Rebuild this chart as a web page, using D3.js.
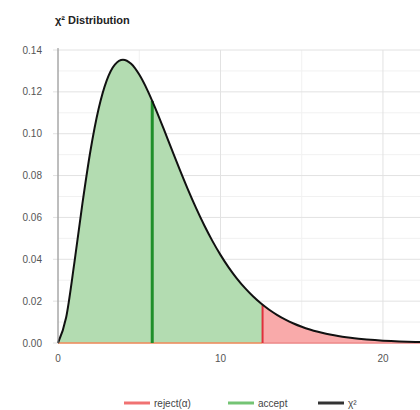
<!DOCTYPE html>
<html>
<head>
<meta charset="utf-8">
<script src="https://cdn.jsdelivr.net/npm/d3@7"></script>
<style>
  body { margin: 0; background: #fff; }
  svg { display: block; font-family: "Liberation Sans", Arial, sans-serif; }
</style>
</head>
<body>
<svg id="chart" width="420" height="410"></svg>
<script>
// Chi-square density (6 degrees of freedom), sampled every 0.5
const xs = [0, 0.5, 1, 1.5, 2, 2.5, 3, 3.5, 4, 4.5, 5, 5.5, 6, 6.5, 7, 7.5, 8, 8.5, 9, 9.5,
  10, 10.5, 11, 11.5, 12, 12.5, 13, 13.5, 14, 14.5, 15, 15.5, 16, 16.5, 17, 17.5, 18, 18.5,
  19, 19.5, 20, 20.5, 21, 21.5, 22, 22.5];
const density = [0, 0.01217, 0.03791, 0.06643, 0.09197, 0.11192, 0.12551, 0.13305, 0.13534,
  0.13340, 0.12825, 0.12086, 0.11202, 0.10238, 0.09248, 0.08268, 0.07326, 0.06441, 0.05624,
  0.04880, 0.04211, 0.03616, 0.03091, 0.02631, 0.02231, 0.01885, 0.01588, 0.01334, 0.01117,
  0.00933, 0.00778, 0.00647, 0.00537, 0.00444, 0.00367, 0.00303, 0.00250, 0.00206, 0.00169,
  0.00139, 0.00113, 0.00093, 0.00076, 0.00062, 0.00050, 0.00041];
// Critical value (alpha = 0.05) and observed statistic
const critical = { x: 12.59, y: 0.01826 };
const statistic = { x: 5.8, y: 0.1157 };
const yTicks = [0, 0.02, 0.04, 0.06, 0.08, 0.10, 0.12, 0.14];
const xTicks = [0, 10, 20];
const legendLabels = ["reject(α)", "accept", "χ²"];

const svg = d3.select("#chart");
const margin = { left: 58, right: 0, top: 50, bottom: 67 };
const W = 420, H = 410;

const x = d3.scaleLinear().domain([0, 22.28]).range([margin.left, W - margin.right]);
const y = d3.scaleLinear().domain([0, 0.14]).range([H - margin.bottom, margin.top]);

const pts = xs.map((v, i) => ({ x: v, y: density[i] }));
const acceptPts = pts.filter(p => p.x < critical.x).concat([critical]);
const rejectPts = [critical].concat(pts.filter(p => p.x > critical.x));

const g = svg.append("g");

// minor grid
const minorY = d3.range(0.01, 0.14, 0.02);
g.selectAll(".minorY").data(minorY).join("line")
  .attr("x1", x(0)).attr("x2", W).attr("y1", d => y(d)).attr("y2", d => y(d))
  .attr("stroke", "#f1f1f1").attr("stroke-width", 1);
g.selectAll(".minorX").data([5, 15]).join("line")
  .attr("x1", d => x(d)).attr("x2", d => x(d)).attr("y1", y(0)).attr("y2", y(0.14))
  .attr("stroke", "#f1f1f1").attr("stroke-width", 1);
// major grid
g.selectAll(".gy").data(yTicks).join("line")
  .attr("x1", x(0) - 5).attr("x2", W).attr("y1", d => y(d)).attr("y2", d => y(d))
  .attr("stroke", "#e2e2e2").attr("stroke-width", 1);
g.selectAll(".gx").data(xTicks).join("line")
  .attr("x1", d => x(d)).attr("x2", d => x(d)).attr("y1", y(0)).attr("y2", y(0.14))
  .attr("stroke", "#e2e2e2").attr("stroke-width", 1);

const area = d3.area().x(d => x(d.x)).y0(y(0)).y1(d => y(d.y)).curve(d3.curveMonotoneX);
const line = d3.line().x(d => x(d.x)).y(d => y(d.y)).curve(d3.curveMonotoneX);

g.append("path").datum(acceptPts).attr("d", area).attr("fill", "#b3dcb1");
g.append("path").datum(rejectPts).attr("d", area).attr("fill", "#f9aaaa");

// baseline of the shaded regions
g.append("line").attr("x1", x(0)).attr("x2", x(critical.x))
  .attr("y1", y(0)).attr("y2", y(0)).attr("stroke", "#f08a5a").attr("stroke-width", 1.5);
g.append("line").attr("x1", x(critical.x)).attr("x2", W)
  .attr("y1", y(0)).attr("y2", y(0)).attr("stroke", "#ef8a8a").attr("stroke-width", 1.5);

// critical value and statistic markers
g.append("line").attr("x1", x(critical.x)).attr("x2", x(critical.x))
  .attr("y1", y(0)).attr("y2", y(critical.y)).attr("stroke", "#e0303c").attr("stroke-width", 2);
g.append("line").attr("x1", x(statistic.x)).attr("x2", x(statistic.x))
  .attr("y1", y(0)).attr("y2", y(statistic.y)).attr("stroke", "#1f8f2a").attr("stroke-width", 3);

// density curve
g.append("path").datum(pts).attr("d", line)
  .attr("fill", "none").attr("stroke", "#111").attr("stroke-width", 2);

// left axis line
g.append("line").attr("x1", x(0)).attr("x2", x(0)).attr("y1", y(0.14) - 2).attr("y2", y(0))
  .attr("stroke", "#8a8a8a").attr("stroke-width", 1);

// tick labels
g.selectAll(".yl").data(yTicks).join("text")
  .attr("x", 42).attr("y", d => y(d) + 3.5).attr("text-anchor", "end")
  .attr("font-size", 10).attr("fill", "#555").text(d => d.toFixed(2));
g.selectAll(".xl").data(xTicks).join("text")
  .attr("x", d => x(d)).attr("y", y(0) + 19).attr("text-anchor", "middle")
  .attr("font-size", 10).attr("fill", "#555").text(d => d);

// title
svg.append("text").attr("x", 55).attr("y", 24).attr("font-size", 11).attr("font-weight", "bold")
  .attr("fill", "#222").text("χ² Distribution");

// legend
const legendColors = ["#f07272", "#74c474", "#333"];
const legendX = [124, 228, 318];
const lg = svg.append("g");
legendLabels.forEach((lab, i) => {
  lg.append("line").attr("x1", legendX[i]).attr("x2", legendX[i] + 26)
    .attr("y1", 403).attr("y2", 403).attr("stroke", legendColors[i]).attr("stroke-width", 3);
  lg.append("text").attr("x", legendX[i] + 30).attr("y", 407)
    .attr("font-size", 10).attr("fill", "#444").text(lab);
});
</script>
</body>
</html>
